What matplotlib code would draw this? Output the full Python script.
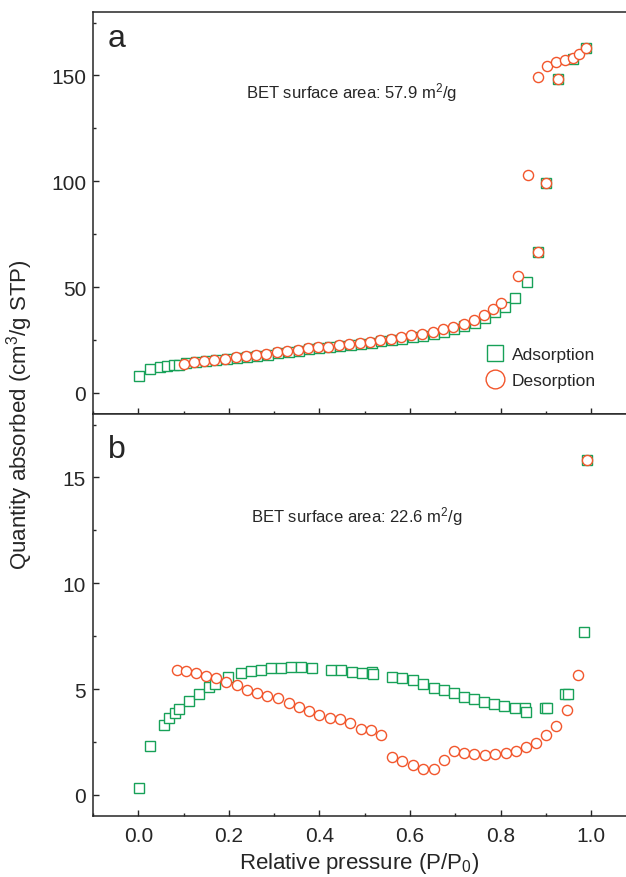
import matplotlib
matplotlib.use("Agg")
import matplotlib.pyplot as plt
from matplotlib.ticker import MultipleLocator, NullFormatter

plt.rcParams['font.family'] = ['Liberation Sans', 'DejaVu Sans']
plt.rcParams['mathtext.fontset'] = 'custom'
plt.rcParams['mathtext.rm'] = 'Liberation Sans'
plt.rcParams['mathtext.default'] = 'regular'

GREEN = '#17a158'
ORANGE = '#f2562c'
DARK = '#262626'

# sample a
ads_a_x = [0.001, 0.025, 0.049, 0.063, 0.078, 0.089, 0.105, 0.127, 0.150, 0.172,
           0.195, 0.218, 0.240, 0.263, 0.286, 0.309, 0.332, 0.355, 0.378, 0.400,
           0.423, 0.446, 0.469, 0.492, 0.515, 0.537, 0.560, 0.583, 0.606, 0.629,
           0.652, 0.675, 0.698, 0.720, 0.743, 0.766, 0.788, 0.810, 0.832, 0.859,
           0.882, 0.900, 0.926, 0.959, 0.988]
ads_a_y = [8.0, 11.1, 12.3, 12.7, 13.0, 13.3, 13.9, 14.4, 14.9, 15.3,
           15.9, 16.4, 17.0, 17.6, 18.1, 18.7, 19.3, 19.9, 20.5, 21.0,
           21.5, 22.0, 22.6, 23.2, 23.7, 24.4, 25.0, 25.6, 26.4, 27.1,
           27.9, 28.9, 30.0, 31.4, 33.1, 35.3, 38.0, 40.6, 45.0, 52.6,
           66.8, 99.2, 148.3, 158.0, 163.0]
des_a_x = [0.100, 0.124, 0.146, 0.168, 0.192, 0.215, 0.237, 0.260, 0.283, 0.306,
           0.329, 0.352, 0.375, 0.397, 0.420, 0.443, 0.466, 0.489, 0.512, 0.534,
           0.557, 0.580, 0.603, 0.626, 0.650, 0.673, 0.696, 0.720, 0.742, 0.764,
           0.784, 0.800, 0.838, 0.861, 0.882, 0.882, 0.900, 0.903, 0.923, 0.926,
           0.942, 0.959, 0.973, 0.988]
des_a_y = [13.8, 14.6, 15.1, 15.4, 16.2, 16.8, 17.4, 18.1, 18.5, 19.3,
           19.8, 20.4, 21.0, 21.5, 21.8, 22.5, 22.9, 23.6, 24.1, 24.8,
           25.6, 26.2, 27.2, 27.8, 28.8, 30.1, 31.3, 32.7, 34.2, 36.8,
           39.8, 42.4, 55.2, 103.0, 66.8, 149.5, 99.2, 154.5, 156.4, 148.3,
           157.4, 158.2, 160.0, 163.0]

# sample b
ads_b_x = [0.001, 0.026, 0.056, 0.068, 0.080, 0.091, 0.113, 0.135, 0.157, 0.170,
           0.199, 0.226, 0.249, 0.271, 0.293, 0.316, 0.338, 0.360, 0.383, 0.425,
           0.448, 0.472, 0.494, 0.516, 0.519, 0.560, 0.583, 0.606, 0.629, 0.652,
           0.675, 0.697, 0.719, 0.742, 0.764, 0.786, 0.808, 0.831, 0.853, 0.857,
           0.899, 0.902, 0.943, 0.948, 0.985, 0.990]
ads_b_y = [0.32, 2.33, 3.29, 3.62, 3.85, 4.07, 4.43, 4.78, 5.08, 5.24,
           5.55, 5.74, 5.87, 5.90, 5.99, 5.98, 6.02, 6.06, 6.01, 5.90,
           5.90, 5.82, 5.77, 5.80, 5.72, 5.55, 5.54, 5.43, 5.24, 5.07,
           4.95, 4.83, 4.62, 4.51, 4.40, 4.29, 4.20, 4.09, 4.12, 3.93,
           4.09, 4.09, 4.77, 4.75, 7.69, 15.82]
des_b_x = [0.085, 0.105, 0.127, 0.149, 0.172, 0.194, 0.217, 0.240, 0.263, 0.285,
           0.309, 0.332, 0.355, 0.377, 0.400, 0.423, 0.446, 0.468, 0.492, 0.514,
           0.537, 0.560, 0.583, 0.606, 0.628, 0.652, 0.675, 0.697, 0.720, 0.742,
           0.765, 0.788, 0.811, 0.834, 0.856, 0.879, 0.901, 0.923, 0.946, 0.971,
           0.990]
des_b_y = [5.90, 5.85, 5.77, 5.63, 5.50, 5.33, 5.17, 4.95, 4.83, 4.69,
           4.56, 4.34, 4.17, 3.96, 3.77, 3.65, 3.57, 3.38, 3.10, 3.07,
           2.83, 1.81, 1.60, 1.43, 1.24, 1.20, 1.64, 2.08, 2.00, 1.91,
           1.89, 1.95, 1.97, 2.06, 2.26, 2.45, 2.83, 3.27, 4.00, 5.65,
           15.82]

bet_a = "BET surface area: 57.9 m$^2$/g"
bet_b = "BET surface area: 22.6 m$^2$/g"


def style_axes(ax, ymin, ymax, ymajor):
    ax.set_xlim(-0.1, 1.077)
    ax.set_ylim(ymin, ymax)
    ax.xaxis.set_major_locator(MultipleLocator(0.2))
    ax.xaxis.set_minor_locator(MultipleLocator(0.1))
    ax.yaxis.set_major_locator(MultipleLocator(ymajor))
    ax.yaxis.set_minor_locator(MultipleLocator(ymajor / 2))
    ax.tick_params(which='both', direction='in', top=False, right=False,
                   colors=DARK, labelsize=15, width=1.0)
    ax.tick_params(which='major', length=4.5, pad=5)
    ax.tick_params(which='minor', length=2.5)
    ax.tick_params(axis='x', which='major', pad=7)
    ax.spines['right'].set_visible(False)
    for s in ['left', 'top', 'bottom']:
        ax.spines[s].set_color(DARK)
        ax.spines[s].set_linewidth(1.1)


def draw_points(ax, ax_x, ax_y, dx, dy):
    ax.plot(ax_x, ax_y, 's', ms=6.6, mfc='white', mec=GREEN, mew=1.0,
            label='Adsorption', clip_on=False)
    ax.plot(dx, dy, 'o', ms=7.3, mfc='white', mec=ORANGE, mew=1.0,
            label='Desorption', clip_on=False)


fig = plt.figure(figsize=(6.26, 8.78), dpi=100)
left = 93 / 626
ax_a = fig.add_axes([left, 1 - 415 / 878, 1 - left, 402 / 878])
ax_b = fig.add_axes([left, 1 - 817 / 878, 1 - left, 402 / 878])

style_axes(ax_a, -10, 180, 50)
style_axes(ax_b, -1, 18, 5)
ax_a.xaxis.set_major_formatter(NullFormatter())
ax_b.xaxis.set_major_formatter(plt.FormatStrFormatter('%.1f'))

draw_points(ax_a, ads_a_x, ads_a_y, des_a_x, des_a_y)
draw_points(ax_b, ads_b_x, ads_b_y, des_b_x, des_b_y)

ax_a.text(0.028, 0.935, "a", transform=ax_a.transAxes, fontsize=23,
          color=DARK, ha='left', va='center')
ax_b.text(0.028, 0.912, "b", transform=ax_b.transAxes, fontsize=23,
          color=DARK, ha='left', va='center')
ax_a.text(0.238, 142.6, bet_a, fontsize=12, color=DARK, ha='left', va='center')
ax_b.text(0.249, 13.2, bet_b, fontsize=12, color=DARK, ha='left', va='center')

leg = ax_a.legend(loc='upper left', bbox_to_anchor=(0.738, 0.166), frameon=False,
                  borderpad=0, borderaxespad=0, handlelength=1.0,
                  handletextpad=0.45, labelspacing=0.62, markerscale=1.85,
                  fontsize=12.5)
for t in leg.get_texts():
    t.set_color(DARK)

ax_b.set_xlabel("Relative pressure (P/P$_0$)", fontsize=16, color=DARK, labelpad=4)
fig.text(20 / 626, 1 - 415 / 878, "Quantity absorbed (cm$^3$/g STP)",
         rotation=90, fontsize=16, color=DARK, ha='center', va='center')

plt.savefig("out.png", dpi=100)
